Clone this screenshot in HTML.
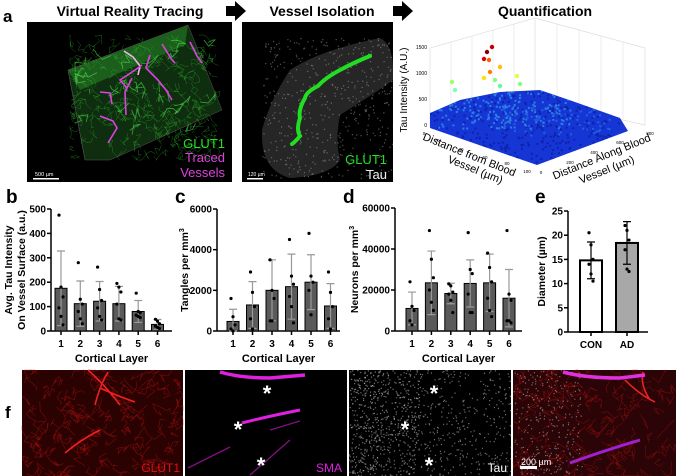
<!DOCTYPE html>
<html><head><meta charset="utf-8">
<style>
body{margin:0;background:#fff;}
svg{display:block;font-family:"Liberation Sans",Arial,sans-serif;}
.t{font-weight:bold;}
</style></head>
<body>
<svg id="fig" width="676" height="476" viewBox="0 0 676 476" xmlns="http://www.w3.org/2000/svg">
<defs>
  <clipPath id="clipVR"><rect x="27" y="22" width="205" height="160"/></clipPath>
  <clipPath id="clipISO"><rect x="242" y="22" width="151" height="160"/></clipPath>
  <clipPath id="clipBlob"><path d="M430 113 L460 100 L500 92 L540 90 L575 102 L620 118 L628 131 L537 165 L430 128 Z"/></clipPath>
</defs>
<g id="top">
  <text class="t" x="3" y="22" font-size="17">a</text>
  <text class="t" x="130" y="16" font-size="14" text-anchor="middle">Virtual Reality Tracing</text>
  <path d="M226 6h9v-5l11 10-11 10v-5h-9z" fill="#000"/>
  <text class="t" x="322" y="16" font-size="14" text-anchor="middle">Vessel Isolation</text>
  <path d="M393 6h9v-5l11 10-11 10v-5h-9z" fill="#000"/>
  <text class="t" x="545" y="16" font-size="14" text-anchor="middle">Quantification</text>
  <rect x="27" y="22" width="205" height="160" fill="#000"/>
  <g id="vrtex" clip-path="url(#clipVR)"></g>
  <text x="225" y="148" font-size="13" fill="#22e022" text-anchor="end">GLUT1</text>
  <text x="225" y="162" font-size="13" fill="#e040e0" text-anchor="end">Traced</text>
  <text x="225" y="177" font-size="13" fill="#e040e0" text-anchor="end">Vessels</text>
  <rect x="33" y="178" width="26" height="1.5" fill="#fff"/>
  <text x="35" y="176" font-size="5.5" fill="#fff">500 µm</text>
  <rect x="242" y="22" width="151" height="160" fill="#000"/>
  <g id="isotex" clip-path="url(#clipISO)"></g>
  <text x="387" y="164" font-size="13" fill="#22e022" text-anchor="end">GLUT1</text>
  <text x="387" y="179" font-size="13" fill="#eee" text-anchor="end">Tau</text>
  <rect x="247" y="178" width="16" height="1.5" fill="#fff"/>
  <text x="248" y="176" font-size="5" fill="#fff">120 µm</text>
  <g id="plot3d"></g>
</g>
<g id="charts"></g>
<g id="fpanel">
  <text class="t" x="5" y="418" font-size="17">f</text>
</g>
</svg>
<script>
// ---- chart data ----
const layers = ["1","2","3","4","5","6"];
const bMeans = [175,112,122,112,80,27];
const bSD = [153,93,81,71,45,20];
const bPts = [[475,180,140,95,60,25],[280,130,110,80,50,30],[262,170,125,95,60,45],[195,180,160,110,50,45],[155,80,75,65,60,55],[48,40,30,20,15,10]];
const cMeans = [470,1280,2000,2180,2400,1230];
const cSD = [600,1150,1500,1600,1350,1100];
const cPts = [[1600,700,300,100,0],[2900,1900,1200,600,100],[3500,2000,1600,500,500],[4500,2700,2300,1700,1200,400],[4800,2700,2400,2000,800],[2900,1900,1200,600,100]];
const dMeans = [11000,23500,18300,23200,23500,16000];
const dSD = [8000,15500,5000,11500,14000,14000];
const dPts = [[24000,12000,10000,5000,3000],[49000,35000,26000,20000,14000,10000],[23000,22000,19000,18000,15000,9000],[48000,30000,28000,18000,9000,9000],[38000,31000,24000,16000,10000,7000],[49000,18000,15000,5000,5000,4000]];
const eCats = ["CON","AD"];
const eMeans = [14.8,18.4];
const eSD = [3.8,4.4];
const ePts = [[20.5,18,15,14,12,10.5],[22,21,19,17,13,12.5]];
const bTicks = [0,100,200,300,400,500];
const cTicks = [0,2000,4000,6000];
const dTicks = [0,20000,40000,60000];
const eTicks = [0,5,10,15,20,25];

const NS="http://www.w3.org/2000/svg";
function mk(tag,attrs,parent){const e=document.createElementNS(NS,tag);for(const k in attrs)e.setAttribute(k,attrs[k]);parent.appendChild(e);return e;}
let seed=7;function rnd(){seed=(seed*16807)%2147483647;return seed/2147483647;}

function barChart(o){
  const g=mk('g',{},document.getElementById('charts'));
  
  
  const y=v=>o.y0-(v/o.ymax)*(o.y0-o.ytop);
  const x=i=>o.x0+o.off+i*o.step;
  const lab=mk('text',{x:o.lx,y:o.ly,'font-size':19,'font-weight':'bold'},g);lab.textContent=o.label;
  
  
  const ya=mk('line',{x1:o.x0,y1:o.ytop,x2:o.x0,y2:o.y0,stroke:'#000','stroke-width':1.5},g);
  
  
  const xa=mk('line',{x1:o.x0,y1:o.y0,x2:o.x1,y2:o.y0,stroke:'#000','stroke-width':1.5},g);
  
  
  o.ticks.forEach(t=>{
    mk('line',{x1:o.x0-4,y1:y(t),x2:o.x0,y2:y(t),stroke:'#000','stroke-width':1.5},g);
    const tt=mk('text',{x:o.x0-5,y:y(t)+3.5,'font-size':10,'font-weight':'bold','text-anchor':'end'},g);
    tt.textContent=t;
    
    
  });
  o.cats.forEach((c,i)=>{
    const cx=x(i),m=o.means[i],s=o.sd[i];
    mk('line',{x1:cx,y1:o.y0,x2:cx,y2:o.y0+4,stroke:'#000','stroke-width':1.5},g);
    const r=mk('rect',{x:cx-o.bw/2,y:y(m),width:o.bw,height:o.y0-y(m),fill:o.fills[i],stroke:'#000','stroke-width':o.sw},g);
    
    
    const eb=mk('path',{d:`M${cx} ${y(Math.max(0,m-s))}V${y(m+s)}M${cx-4} ${y(m+s)}h8M${cx-4} ${y(Math.max(0,m-s))}h8`,stroke:o.ec,'stroke-width':1.2,fill:'none'},g);
    
    
    o.pts[i].forEach((p,j)=>{
      const d=mk('circle',{cx:cx+((j%3)-1)*2,cy:y(p),r:1.6,fill:'#000'},g);
      
      
    });
    const xl=mk('text',{x:cx,y:o.y0+16,'font-size':o.catfs,'font-weight':'bold','text-anchor':'middle'},g);
    xl.textContent=c;
    
    
  });
  if(o.xtitle){const xt=mk('text',{x:(o.x0+o.x1)/2,y:o.y0+31,'font-size':11,'font-weight':'bold','text-anchor':'middle'},g);xt.textContent=o.xtitle;
    
    }
  o.ytitle.forEach((tl,k)=>{
    const yt=mk('text',{transform:`translate(${o.ytx+k*13},${(o.ytop+o.y0)/2}) rotate(-90)`,'font-size':10.5,'font-weight':'bold','text-anchor':'middle'},g);
    yt.innerHTML=tl;
    
    
  });
}
const gray=Array(6).fill('#5a5a5a');
barChart({name:'panel-b-tau-intensity',label:'b',lx:6,ly:203,x0:51,x1:172,off:10,step:19.3,bw:12,y0:331,ytop:209,ymax:500,ticks:bTicks,cats:layers,means:bMeans,sd:bSD,pts:bPts,fills:gray,sw:1,ec:'#999',catfs:10,xtitle:'Cortical Layer',ytitle:['Avg. Tau Intensity','On Vessel Surface (a.u.)'],ytx:12});
barChart({name:'panel-c-tangles',label:'c',lx:175,ly:203,x0:217,x1:340,off:16,step:19.5,bw:12,y0:331,ytop:209,ymax:6000,ticks:cTicks,cats:layers,means:cMeans,sd:cSD,pts:cPts,fills:gray,sw:1,ec:'#999',catfs:10,xtitle:'Cortical Layer',ytitle:['Tangles per mm<tspan dy="-4" font-size="7">3</tspan>'],ytx:188});
barChart({name:'panel-d-neurons',label:'d',lx:343,ly:203,x0:395,x1:522,off:17,step:19.4,bw:12,y0:331,ytop:208,ymax:60000,ticks:dTicks,cats:layers,means:dMeans,sd:dSD,pts:dPts,fills:gray,sw:1,ec:'#999',catfs:10,xtitle:'Cortical Layer',ytitle:['Neurons per mm<tspan dy="-4" font-size="7">3</tspan>'],ytx:358});
barChart({name:'panel-e-diameter',label:'e',lx:535,ly:203,x0:568,x1:648,off:23,step:36,bw:22,y0:332,ytop:211,ymax:25,ticks:eTicks,cats:eCats,means:eMeans,sd:eSD,pts:ePts,fills:['#fff','#a8a8a8'],sw:2,ec:'#000',catfs:10,xtitle:null,ytitle:['Diameter (µm)'],ytx:545});

// ---- textures for images ----
function strands(parent,x,y,w,h,n,color,width,len,op){
  for(let i=0;i<n;i++){
    let px=x+rnd()*w,py=y+rnd()*h,d=`M${px.toFixed(1)} ${py.toFixed(1)}`;
    for(let k=0;k<4;k++){px=Math.min(x+w,Math.max(x,px+(rnd()-0.5)*len));py=Math.min(y+h,Math.max(y,py+(rnd()-0.5)*len));d+=`L${px.toFixed(1)} ${py.toFixed(1)}`;}
    mk('path',{d,stroke:color,'stroke-width':width,fill:'none',opacity:op},parent);
  }
}
function speckle(parent,x,y,w,h,n,color,op,sz){
  sz=sz||1.2;let d='';for(let i=0;i<n;i++){d+=`M${(x+rnd()*w).toFixed(1)} ${(y+rnd()*h).toFixed(1)}h${sz}v${sz}h-${sz}z`;}
  return mk('path',{d,fill:color,opacity:op},parent);
}
const vr=document.getElementById('vrtex');
mk('path',{d:'M68 70 L188 25 L222 110 L110 160 L85 160 Z',fill:'#0f2e0f'},vr);
mk('path',{d:'M68 70 L188 25 L185 45 L80 90 Z',fill:'#1f6a1f',opacity:0.8},vr);
strands(vr,70,35,150,125,240,'#2fb82f',0.5,12,0.55);
strands(vr,75,40,140,110,25,'#50e050',0.9,20,0.6);
mk('path',{d:'M68 70 L188 25 L222 110 L110 160 L85 160 Z M68 70 L85 160',stroke:'#555',fill:'none','stroke-width':0.5},vr);
[['M124 51 L133 57 L140 66 L138 75','#f0b0f0'],['M150 55 L146 68 L158 80 L166 90 L172 100','#e040e0'],['M162 44 L172 60 L175 63','#e040e0'],['M142 65 L135 70 L120 80 L127 88','#e040e0'],['M100 92 L110 93 L112 104','#e040e0'],['M132 78 L125 92 L126 115','#e040e0'],['M100 116 L113 121 L117 128 L108 143','#e040e0'],['M190 42 L197 56 L202 63','#e040e0']].forEach(p=>mk('path',{d:p[0],stroke:p[1],'stroke-width':1.6,fill:'none'},vr));
const iso=document.getElementById('isotex');
mk('path',{d:'M290 70 Q320 50 380 38 Q395 45 393 80 Q380 90 340 115 Q335 140 340 160 Q330 176 290 178 Q260 170 262 130 Q270 100 290 70 Z',fill:'#262626'},iso);
speckle(iso,262,38,131,140,500,'#bbbbbb',0.45);
mk('path',{d:'M370 56 Q355 62 340 70 Q325 78 318 86 Q306 92 305 98 Q298 110 300 118 Q296 130 300 136 Q295 142 292 144',stroke:'#22dd22','stroke-width':4,fill:'none','stroke-linecap':'round'},iso);

// ---- 3D plot ----
const p3=document.getElementById('plot3d');
const gl='#ddd';
mk('path',{d:'M430 127 L430 48 L535 18 L535 100 Z M535 18 L645 48 L645 125 L535 100',stroke:gl,fill:'none','stroke-width':0.7},p3);
for(let i=1;i<5;i++){mk('line',{x1:430+i*21,y1:48-i*6,x2:430+i*21,y2:127-i*5.4,stroke:gl,'stroke-width':0.5},p3);mk('line',{x1:535+i*22,y1:18+i*6,x2:535+i*22,y2:100+i*5,stroke:gl,'stroke-width':0.5},p3);}
mk('path',{d:'M430 113 L460 100 L500 92 L540 90 L575 102 L620 118 L628 131 L537 165 L430 128 Z',fill:'#1535d5'},p3);
const blob=mk('g',{'clip-path':'url(#clipBlob)'},p3);
speckle(blob,430,88,200,80,450,'#0a1590',0.6,2);
speckle(blob,430,88,140,40,200,'#3ab0f0',0.6,2);
speckle(blob,500,105,110,30,80,'#2a80e8',0.6,2);
[[492,47,'#c00000'],[487,52,'#800000'],[484,59,'#e00000'],[489,60,'#ff6000'],[500,67,'#ffc000'],[490,72,'#ff8000'],[484,78,'#ffe000'],[452,82,'#a0ff60'],[517,76,'#e0ff40'],[520,84,'#80ff80'],[495,80,'#80ff80'],[455,90,'#80ffb0'],[500,86,'#60ff90']].forEach(p=>mk('circle',{cx:p[0],cy:p[1],r:2.2,fill:p[2]},p3));
const lbl=(t,x,y,r,fs,anc)=>{const e=mk('text',{transform:`translate(${x},${y}) rotate(${r})`,'font-size':fs,'text-anchor':anc||'middle'},p3);e.textContent=t;};
lbl('Tau Intensity (A.U.)',407,90,-90,10);
[['1500',49],['1000',75],['500',101],['0',127]].forEach(a=>lbl(a[0],427,a[1],0,5,'end'));
lbl('Distance from Blood',468,158,22,11);
lbl('Vessel (µm)',474,173,22,11);
lbl('Distance Along Blood',603,160,-22,11);
lbl('Vessel (µm)',608,173,-22,11);
[['0',424,135],['20',437,142],['40',461,151],['60',485,159],['80',507,165],['100',527,173]].forEach(a=>lbl(a[0],a[1],a[2],0,4.5));
[['0',541,174],['200',570,164],['400',594,154],['600',620,144],['800',650,135]].forEach(a=>lbl(a[0],a[1],a[2],0,4.5));

// ---- panel f ----
const f=document.getElementById('fpanel');
const fp=[[22,183],[185,347],[349,511],[513,676]];
fp.forEach((p,i)=>{
  const r=mk('rect',{x:p[0],y:370,width:p[1]-p[0],height:106,fill:i==0?'#2a0202':(i==3?'#2a0406':'#000')},f);
  
  
});
strands(f,22,370,161,106,160,'#b01010',0.6,16,0.6);
mk('path',{d:'M108 372 Q100 385 95 405 M88 370 Q105 385 120 405 M100 388 Q115 395 135 402 M65 453 Q80 440 100 430',stroke:'#f02020','stroke-width':1.6,fill:'none'},f);
mk('path',{d:'M220 372 Q240 378 270 378 L305 375',stroke:'#e020e0','stroke-width':3.5,fill:'none'},f);
mk('path',{d:'M188 468 L230 447 M250 475 L290 440 M270 430 L300 421',stroke:'#801080','stroke-width':1.4,fill:'none'},f);
mk('path',{d:'M242 423 Q265 417 300 410',stroke:'#e020e0','stroke-width':3,fill:'none'},f);
speckle(f,349,370,162,106,600,'#dddddd',0.5);
speckle(f,349,370,70,106,400,'#ffffff',0.45);
strands(f,513,370,163,106,140,'#a01010',0.6,16,0.6);
mk('path',{d:'M643 372 Q640 385 650 400 M625 380 Q640 395 655 402',stroke:'#f02020','stroke-width':1.6,fill:'none'},f);
speckle(f,513,370,70,106,300,'#dddddd',0.45);
mk('path',{d:'M563 372 Q585 378 620 378 L645 375',stroke:'#e030e0','stroke-width':3.5,fill:'none'},f);
mk('path',{d:'M570 463 Q600 452 640 440',stroke:'#a020d0','stroke-width':3,fill:'none'},f);
[[267,393],[238,429],[261,465],[434,393],[405,429],[429,465]].forEach(a=>{const t=mk('text',{x:a[0],y:a[1]+8,'font-size':22,'font-weight':'bold',fill:'#fff','text-anchor':'middle'},f);t.textContent='*';});
const fl=(t,x,c)=>{const e=mk('text',{x,y:472,'font-size':12,fill:c,'text-anchor':'end'},f);e.textContent=t;};
fl('GLUT1',180,'#e01010');fl('SMA',342,'#e020e0');fl('Tau',507,'#fff');
mk('rect',{x:520,y:466,width:17,height:3,fill:'#fff'},f);
const sb=mk('text',{x:521,y:465,'font-size':9,fill:'#fff'},f);sb.textContent='200 µm';


</script>
</body></html>
